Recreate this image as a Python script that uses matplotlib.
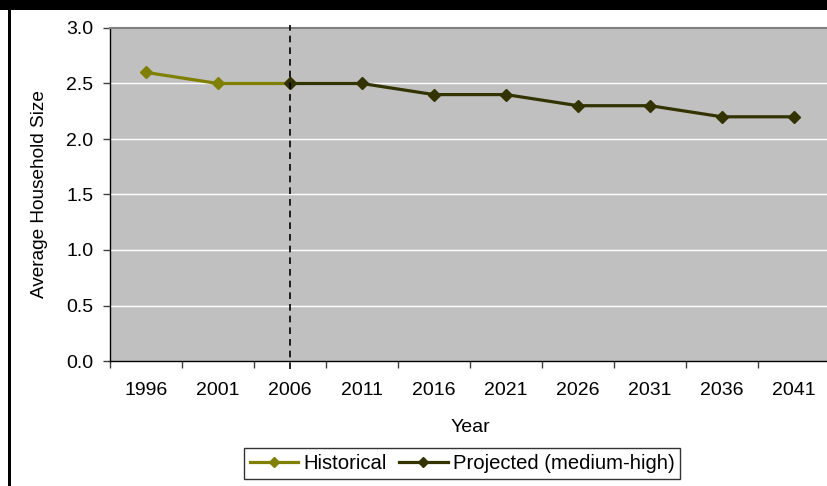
import matplotlib
matplotlib.use("Agg")
import matplotlib.pyplot as plt
from matplotlib.patches import Rectangle
from matplotlib.ticker import FixedLocator, NullFormatter, FixedFormatter

plt.rcParams['font.family'] = ['Liberation Sans', 'DejaVu Sans']

years = ["1996", "2001", "2006", "2011", "2016", "2021", "2026", "2031", "2036", "2041"]
historical = [2.6, 2.5, 2.5]
projected = [2.5, 2.5, 2.4, 2.4, 2.3, 2.3, 2.2, 2.2]
projected_start = 2          # index of 2006, where the projection begins
y_ticks = [0.0, 0.5, 1.0, 1.5, 2.0, 2.5, 3.0]

hist_color = "#808000"
proj_color = "#333300"
fs = 14

fig = plt.figure(figsize=(8.27, 4.86), dpi=100)
fig.patch.set_facecolor("white")

# frame pieces around the chart
fig.patches.append(Rectangle((0, 1 - 10 / 486), 1, 10 / 486, transform=fig.transFigure,
                             facecolor="black", edgecolor="none", zorder=0))
fig.patches.append(Rectangle((8 / 827, 0), 2.5 / 827, 1, transform=fig.transFigure,
                             facecolor="black", edgecolor="none", zorder=0))

ax = fig.add_axes([110 / 827, 1 - 361 / 486, 720 / 827, 333 / 486])
ax.set_facecolor("#C0C0C0")

xh = [i + 0.5 for i in range(len(historical))]
xp = [projected_start + i + 0.5 for i in range(len(projected))]

ax.plot(xh, historical, color=hist_color, lw=2.3, marker="D", ms=6.5,
        label="Historical", zorder=4)
ax.plot(xp, projected, color=proj_color, lw=2.3, marker="D", ms=6.5,
        label="Projected (medium-high)", zorder=5)

ax.axvline(projected_start + 0.5, ymin=-0.025, ymax=1.01, color="black", lw=1.2,
           ls=(0, (4, 3)), clip_on=False, zorder=6)

ax.set_xlim(0, len(years))
ax.set_ylim(0, 3.0)
ax.set_yticks(y_ticks)
ax.set_yticklabels([f"{v:.1f}" for v in y_ticks], fontsize=fs)
for v in y_ticks[1:-1]:
    ax.axhline(v, color="white", lw=1.0, zorder=1)

ax.xaxis.set_major_locator(FixedLocator(list(range(len(years) + 1))))
ax.xaxis.set_major_formatter(NullFormatter())
ax.xaxis.set_minor_locator(FixedLocator([i + 0.5 for i in range(len(years))]))
ax.xaxis.set_minor_formatter(FixedFormatter(years))
ax.tick_params(axis="x", which="major", direction="out", length=5, width=1, color="#404040")
ax.tick_params(axis="x", which="minor", length=0, pad=15, labelsize=fs)
ax.tick_params(axis="y", direction="out", length=5, width=1, pad=7, color="#404040")

for side in ("left", "bottom"):
    ax.spines[side].set_color("black")
    ax.spines[side].set_linewidth(1.0)
ax.spines["top"].set_color("#808080")
ax.spines["top"].set_linewidth(1.5)
ax.spines["right"].set_visible(False)

ax.set_ylabel("Average Household Size", fontsize=13.7, labelpad=13)
fig.text(470 / 827, 1 - 427 / 486, "Year", fontsize=fs, ha="center", va="center")

leg = fig.legend(loc="center", bbox_to_anchor=(462 / 827, 1 - 463.5 / 486), ncol=2,
                 fontsize=14.6, frameon=True, fancybox=False, handlelength=2.4,
                 handletextpad=0.25, columnspacing=0.6, borderpad=0.3,
                 borderaxespad=0)
leg.get_frame().set_edgecolor("black")
leg.get_frame().set_linewidth(1.0)
for h in leg.legend_handles:
    h.set_markersize(5.5)

fig.savefig("out.png", dpi=100)
